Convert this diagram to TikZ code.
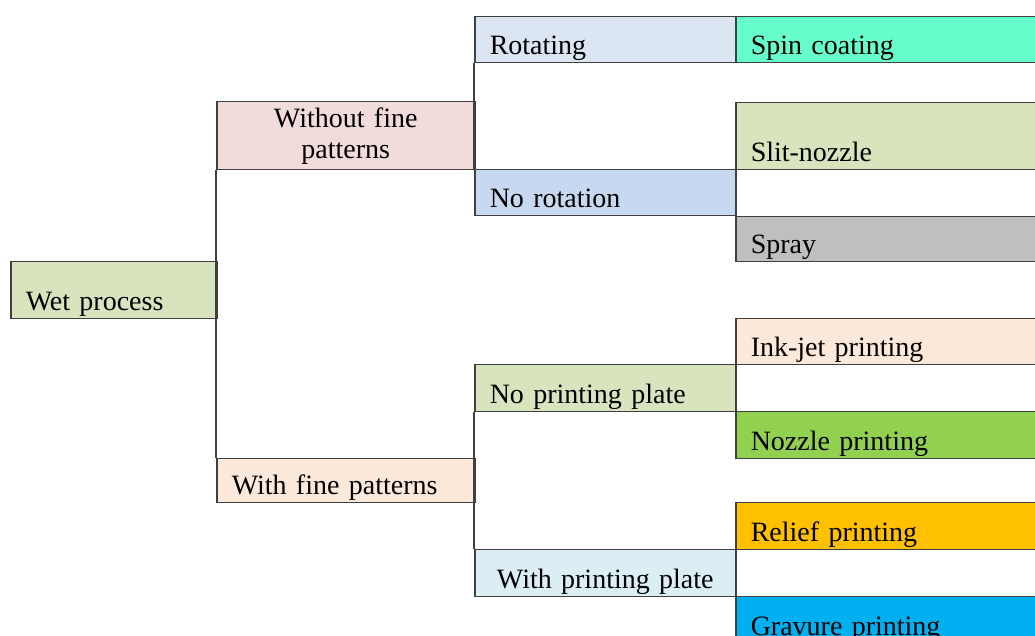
\documentclass[tikz,border=0pt]{standalone}
\usepackage{fontspec}
\setmainfont{Liberation Serif}
\definecolor{edge}{HTML}{404040}
\definecolor{cwet}{HTML}{D7E4BD}
\definecolor{cwithout}{HTML}{F2DCDB}
\definecolor{cwith}{HTML}{FDE9D9}
\definecolor{crot}{HTML}{DCE6F2}
\definecolor{cnorot}{HTML}{C6D9F1}
\definecolor{cspin}{HTML}{66FFCC}
\definecolor{cslit}{HTML}{D7E4BD}
\definecolor{cspray}{HTML}{BFBFBF}
\definecolor{cink}{HTML}{FDE9D9}
\definecolor{cnozzle}{HTML}{92D050}
\definecolor{crelief}{HTML}{FFC000}
\definecolor{cnoplate}{HTML}{D7E4BD}
\definecolor{cplate}{HTML}{DBEEF4}
\definecolor{cgravure}{HTML}{00B0F0}
\begin{document}
\begin{tikzpicture}[x=0.5pt,y=-0.5pt,
  cellbase/.style={draw=edge, line width=0.75pt, anchor=north west,
    inner xsep=7.5pt, inner ysep=0pt, font=\fontsize{14}{15.5}\selectfont},
  cell/.style={cellbase, align=left, text depth=4.25pt},
  colA/.style={text width=88pt},
  colB/.style={text width=114pt},
  colC/.style={text width=115.5pt},
  colD/.style={text width=145pt},
  conn/.style={draw=edge, line width=0.75pt}]
\useasboundingbox (0,0) rectangle (1035,636);
\clip (0,0) rectangle (1035,636);

% level 1
\node[cell, colA, fill=cwet, text height=24.25pt] (wet) at (10,261) {Wet process};

% level 2
\node[cellbase, colB, align=center, fill=cwithout, minimum height=34pt] (without) at (216,101) {Without fine\\patterns};
\node[cell, colB, fill=cwith, text height=17.75pt] (withfine) at (216,458) {With fine patterns};

% level 3
\node[cell, colC, fill=crot, text height=18.75pt] (rot) at (474,16) {Rotating};
\node[cell, colC, fill=cnorot, text height=18.75pt] (norot) at (474,169) {No rotation};
\node[cell, colC, fill=cnoplate, text height=19.25pt] (noplate) at (474,364) {No printing plate};
\node[cell, colC, align=center, fill=cplate, text height=19.25pt] (withplate) at (474,549) {With printing plate};

% level 4
\node[cell, colD, fill=cspin, text height=18.75pt] (spin) at (735,16) {Spin coating};
\node[cell, colD, fill=cslit, text height=29.25pt] (slit) at (735,102) {Slit-nozzle};
\node[cell, colD, fill=cspray, text height=18.25pt] (spray) at (735,216) {Spray};
\node[cell, colD, fill=cink, text height=18.75pt] (inkjet) at (735,318) {Ink-jet printing};
\node[cell, colD, fill=cnozzle, text height=19.25pt] (nozzle) at (735,411) {Nozzle printing};
\node[cell, colD, fill=crelief, text height=19.25pt] (relief) at (735,502) {Relief printing};
\node[cell, colD, fill=cgravure, text height=19.25pt] (gravure) at (735,596) {Gravure printing};

% branch connectors
\draw[conn] (without.south west) -- (withfine.north west);
\draw[conn] (rot.south west) -- (norot.north west);
\draw[conn] (noplate.south west) -- (withplate.north west);
\end{tikzpicture}
\end{document}
